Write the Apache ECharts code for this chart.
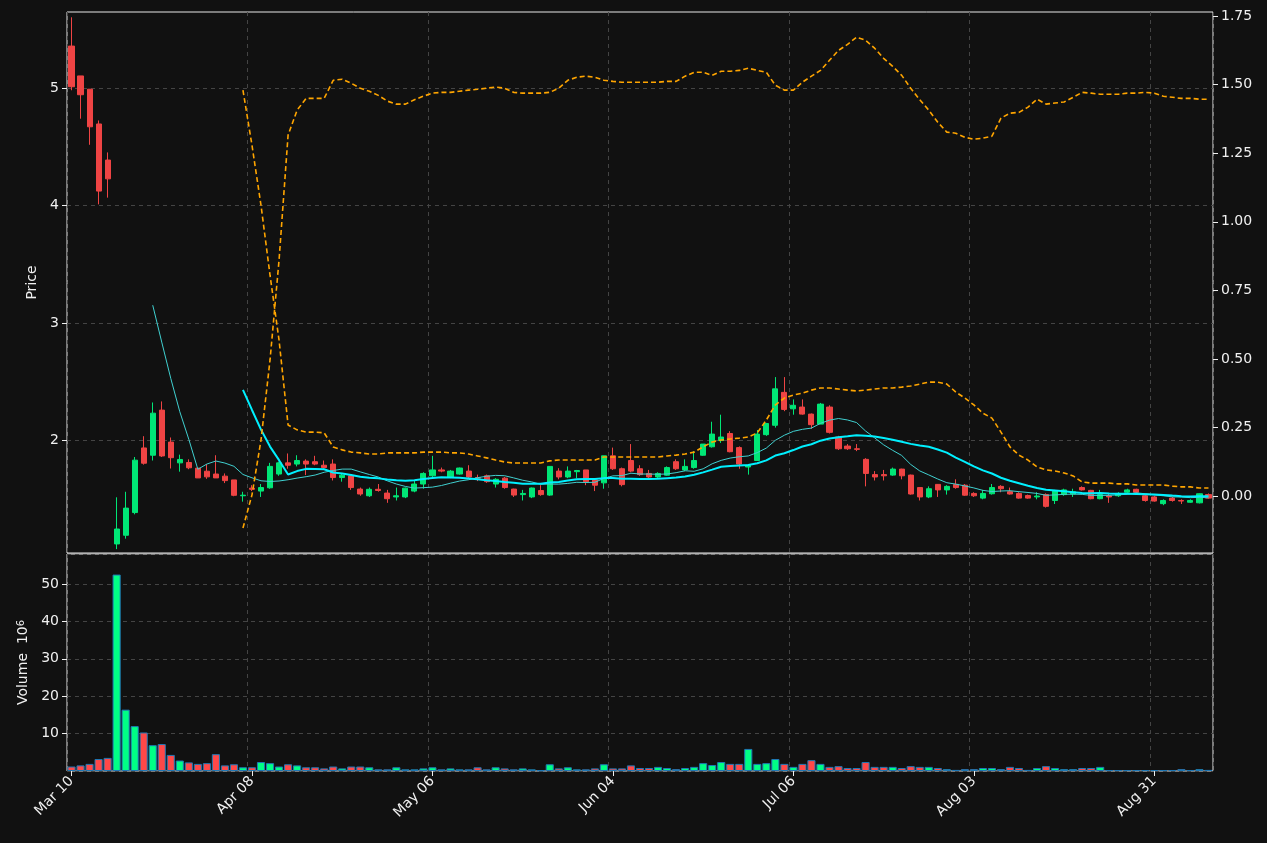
<!DOCTYPE html>
<html><head><meta charset="utf-8">
<script src="https://cdn.jsdelivr.net/npm/echarts@6/dist/echarts.min.js"></script>
<style>html,body{margin:0;padding:0;background:#111111;}#c{width:1267px;height:843px;}</style>
</head><body><div id="c"></div>
<script>
// trading days from Mar 10 2021, 127 bars (days without data skipped)
const holidays = ['2021-04-02','2021-05-31','2021-06-18','2021-07-05','2021-09-06'];
const monthNames = ['Jan','Feb','Mar','Apr','May','Jun','Jul','Aug','Sep','Oct','Nov','Dec'];
const dates = [];
(function(){ let d = new Date(Date.UTC(2021,2,10));
  while (dates.length < 127) { const wd = d.getUTCDay(); const iso = d.toISOString().slice(0,10);
    if (wd !== 0 && wd !== 6 && holidays.indexOf(iso) < 0) dates.push(monthNames[d.getUTCMonth()] + ' ' + String(d.getUTCDate()).padStart(2,'0'));
    d = new Date(d.getTime() + 86400000); } })();

const opens  = [5.357,5.103,4.99,4.694,4.387,1.12,1.194,1.387,1.937,1.875,2.259,1.987,1.81,1.813,1.765,1.739,1.715,1.697,1.665,1.53,1.595,1.57,1.598,1.715,1.81,1.80,1.825,1.82,1.79,1.80,1.685,1.70,1.587,1.53,1.585,1.553,1.52,1.52,1.57,1.63,1.70,1.75,1.69,1.715,1.74,1.685,1.70,1.63,1.68,1.587,1.54,1.52,1.575,1.536,1.74,1.69,1.735,1.75,1.665,1.64,1.87,1.76,1.83,1.76,1.72,1.69,1.705,1.82,1.75,1.77,1.875,1.947,2.00,2.06,1.94,1.775,1.83,2.05,2.13,2.41,2.27,2.285,2.225,2.14,2.285,2.03,1.953,1.93,1.84,1.71,1.71,1.706,1.757,1.706,1.60,1.52,1.627,1.58,1.627,1.62,1.55,1.51,1.547,1.61,1.565,1.55,1.532,1.52,1.54,1.49,1.54,1.545,1.60,1.576,1.505,1.53,1.53,1.56,1.585,1.53,1.52,1.463,1.51,1.49,1.475,1.47,1.54];
const closes = [5.011,4.943,4.67,4.123,4.227,1.247,1.425,1.833,1.807,2.233,1.869,1.854,1.839,1.768,1.682,1.691,1.682,1.659,1.534,1.535,1.585,1.60,1.78,1.81,1.79,1.83,1.80,1.80,1.77,1.685,1.705,1.60,1.545,1.585,1.575,1.505,1.53,1.595,1.63,1.72,1.75,1.74,1.74,1.766,1.69,1.68,1.65,1.67,1.60,1.536,1.55,1.596,1.54,1.78,1.69,1.74,1.745,1.65,1.62,1.87,1.76,1.625,1.74,1.71,1.69,1.72,1.77,1.76,1.78,1.83,1.97,2.055,2.03,1.905,1.80,1.79,2.055,2.145,2.44,2.265,2.30,2.225,2.135,2.31,2.07,1.93,1.93,1.925,1.72,1.69,1.70,1.757,1.70,1.545,1.52,1.59,1.58,1.61,1.60,1.535,1.53,1.55,1.60,1.59,1.545,1.51,1.51,1.528,1.44,1.57,1.58,1.565,1.58,1.505,1.54,1.52,1.55,1.58,1.56,1.49,1.485,1.49,1.49,1.485,1.49,1.547,1.51];
const lows   = [4.981,4.739,4.517,4.01,4.067,1.076,1.165,1.372,1.795,1.83,1.86,1.762,1.735,1.756,1.682,1.674,1.682,1.638,1.526,1.48,1.57,1.52,1.59,1.70,1.76,1.78,1.706,1.79,1.76,1.66,1.65,1.58,1.53,1.52,1.565,1.47,1.49,1.51,1.56,1.59,1.69,1.73,1.68,1.71,1.68,1.655,1.64,1.60,1.59,1.52,1.49,1.51,1.53,1.53,1.67,1.68,1.68,1.62,1.57,1.59,1.75,1.61,1.73,1.70,1.68,1.68,1.70,1.75,1.74,1.76,1.87,1.94,1.98,1.90,1.76,1.71,1.83,2.04,2.11,2.25,2.22,2.22,2.10,2.14,2.06,1.92,1.92,1.91,1.61,1.66,1.66,1.70,1.67,1.54,1.49,1.51,1.52,1.54,1.59,1.53,1.52,1.50,1.54,1.56,1.54,1.505,1.505,1.50,1.43,1.46,1.53,1.52,1.575,1.50,1.50,1.47,1.52,1.55,1.55,1.48,1.48,1.45,1.48,1.46,1.47,1.465,1.505];
const highs  = [5.602,5.103,4.99,4.724,4.452,1.517,1.564,1.86,2.037,2.324,2.333,2.026,1.88,1.84,1.765,1.80,1.875,1.72,1.665,1.564,1.62,1.63,1.81,1.82,1.89,1.875,1.84,1.87,1.83,1.84,1.72,1.70,1.60,1.60,1.63,1.58,1.60,1.60,1.66,1.73,1.87,1.77,1.75,1.77,1.79,1.71,1.71,1.68,1.69,1.59,1.58,1.60,1.62,1.78,1.765,1.78,1.75,1.75,1.67,1.87,1.94,1.77,1.97,1.79,1.75,1.73,1.78,1.84,1.84,1.91,1.97,2.16,2.22,2.08,1.95,1.80,2.09,2.15,2.54,2.54,2.35,2.35,2.23,2.32,2.30,2.04,1.97,1.97,1.85,1.74,1.75,1.77,1.76,1.71,1.60,1.61,1.63,1.62,1.67,1.63,1.56,1.58,1.63,1.62,1.60,1.56,1.54,1.56,1.55,1.58,1.59,1.59,1.61,1.58,1.58,1.55,1.56,1.59,1.59,1.54,1.53,1.50,1.52,1.50,1.50,1.55,1.55];
const volumes = [1.2,1.5,1.9,3.2,3.5,52.5,16.4,12.0,10.3,6.9,7.2,4.3,2.8,2.3,1.9,2.1,4.5,1.5,1.8,1.0,1.0,2.4,2.1,1.2,1.8,1.5,1.0,1.0,0.7,1.2,0.7,1.2,1.2,1.0,0.45,0.45,1.0,0.45,0.45,0.7,1.0,0.45,0.7,0.45,0.45,1.0,0.45,1.0,0.7,0.45,0.7,0.45,0.2,1.8,0.7,1.0,0.45,0.45,0.7,1.8,0.7,0.7,1.5,0.8,0.8,1.1,0.8,0.5,0.8,1.1,2.1,1.6,2.4,1.9,1.9,5.9,1.9,2.1,3.2,1.9,1.1,1.9,2.9,1.9,1.1,1.3,0.8,0.8,2.4,1.1,1.1,1.1,0.8,1.3,1.1,1.1,0.8,0.5,0.3,0.5,0.5,0.8,0.8,0.5,1.1,0.8,0.3,0.8,1.3,0.8,0.5,0.5,0.8,0.8,1.1,0.25,0.25,0.25,0.25,0.25,0.25,0.25,0.25,0.5,0.25,0.5,0.3];
// secondary-axis dashed lines, starting at bar 19
const lineUp = [-0.117,0.004,0.204,0.496,0.860,1.316,1.407,1.450,1.450,1.450,
 1.516,1.520,1.505,1.487,1.476,1.461,1.440,1.429,1.429,1.445,
 1.458,1.469,1.472,1.472,1.476,1.480,1.483,1.487,1.491,1.487,
 1.472,1.469,1.469,1.469,1.472,1.487,1.516,1.527,1.531,1.527,
 1.516,1.512,1.509,1.509,1.509,1.509,1.509,1.512,1.512,1.531,
 1.545,1.545,1.534,1.549,1.549,1.552,1.560,1.552,1.545,1.498,
 1.480,1.480,1.509,1.531,1.552,1.589,1.625,1.647,1.673,1.662,
 1.633,1.596,1.567,1.534,1.487,1.445,1.407,1.363,1.327,1.323,
 1.308,1.301,1.305,1.312,1.378,1.396,1.399,1.418,1.447,1.429,
 1.433,1.437,1.454,1.472,1.469,1.465,1.465,1.465,1.469,1.469,
 1.472,1.469,1.458,1.454,1.450,1.450,1.447,1.447];
const lineDown = [1.480,1.279,1.060,0.805,0.568,0.259,0.241,0.233,0.233,0.230,
 0.179,0.168,0.160,0.157,0.153,0.153,0.157,0.157,0.157,0.157,
 0.160,0.160,0.160,0.157,0.157,0.153,0.146,0.139,0.131,0.124,
 0.120,0.120,0.120,0.120,0.128,0.131,0.131,0.131,0.131,0.131,
 0.142,0.142,0.142,0.142,0.142,0.142,0.142,0.146,0.149,0.153,
 0.160,0.179,0.197,0.204,0.208,0.211,0.215,0.230,0.277,0.332,
 0.357,0.368,0.375,0.386,0.394,0.394,0.390,0.386,0.383,0.386,
 0.390,0.394,0.394,0.397,0.401,0.408,0.415,0.415,0.408,0.379,
 0.357,0.332,0.302,0.284,0.233,0.179,0.149,0.131,0.106,0.095,
 0.091,0.084,0.073,0.051,0.047,0.047,0.047,0.044,0.044,0.040,
 0.040,0.040,0.040,0.036,0.033,0.033,0.029,0.029];
const lineStart = 19;
const priceTicks = [2,3,4,5];
const rightTicks = [0,0.25,0.5,0.75,1.0,1.25,1.5,1.75];
const volTicks = [10,20,30,40,50];

function ma(n){ return closes.map((c,i)=>{ if(i<n-1) return null; let s=0; for(let k=i-n+1;k<=i;k++) s+=closes[k]; return +(s/n).toFixed(4); }); }
const pad = a => Array(lineStart).fill(null).concat(a);
const UP='#00e676', DN='#ef4444', VUP='#00ff85', VDN='#ff4848';
const candle = dates.map((d,i)=>[opens[i],closes[i],lows[i],highs[i]]);
const vol = volumes.map((v,i)=>({value:v,itemStyle:{color: closes[i]>=opens[i]?VUP:VDN}}));
const txt = '#f0f0f0', gridC='#444';
const chart = echarts.init(document.getElementById('c'));
const xBase = {type:'category',data:dates,boundaryGap:true,
  axisLine:{show:false},axisTick:{show:false},axisLabel:{show:false},
  splitLine:{show:true,interval:19,lineStyle:{color:gridC,type:[4,4]}}};
chart.setOption({
  backgroundColor:'#111111', animation:false,
  textStyle:{fontFamily:'DejaVu Sans'},
  grid:[{left:67,right:54,top:12,height:541,show:true,borderColor:'#e8e8e8',borderWidth:1,backgroundColor:'transparent'},
        {left:67,right:54,top:554,height:217,show:true,borderColor:'#e8e8e8',borderWidth:1}],
  xAxis:[Object.assign({gridIndex:0},xBase),
    Object.assign({},xBase,{gridIndex:1,axisTick:{show:true,interval:19,alignWithLabel:true,length:5,lineStyle:{color:txt}},
      axisLabel:{show:true,interval:19,rotate:45,color:txt,fontSize:14,margin:8}})],
  yAxis:[
    {gridIndex:0,type:'value',min:1.043,max:5.647,position:'left',
     name:'Price',nameLocation:'middle',nameGap:28,nameRotate:90,nameTextStyle:{color:txt,fontSize:14},
     axisLabel:{color:txt,fontSize:14,customValues:priceTicks},axisTick:{show:true,customValues:priceTicks,lineStyle:{color:txt}},axisLine:{show:false},
     splitLine:{show:true,lineStyle:{color:gridC,type:[4,4]}}},
    {gridIndex:0,type:'value',min:-0.208,max:1.765,position:'right',
     axisLabel:{color:txt,fontSize:14,customValues:rightTicks,formatter:v=>v.toFixed(2)},
     axisTick:{show:true,customValues:rightTicks,lineStyle:{color:txt}},axisLine:{show:false},splitLine:{show:false}},
    {gridIndex:1,type:'value',min:0,max:58,interval:10,position:'left',
     name:'Volume  10{s|6}',nameLocation:'middle',nameGap:30,nameRotate:90,
     nameTextStyle:{color:txt,fontSize:14,rich:{s:{fontSize:10,verticalAlign:'top',color:txt}}},
     axisLabel:{color:txt,fontSize:14,showMinLabel:false,showMaxLabel:false,formatter:v=>volTicks.indexOf(v)>=0?String(v):''},
     axisTick:{show:true,lineStyle:{color:txt}},axisLine:{show:false},
     splitLine:{show:true,lineStyle:{color:gridC,type:[4,4]}}}
  ],
  series:[
    {type:'candlestick',xAxisIndex:0,yAxisIndex:0,data:candle,barWidth:'62%',
     itemStyle:{color:UP,color0:DN,borderColor:UP,borderColor0:DN,borderWidth:1}},
    {type:'line',xAxisIndex:0,yAxisIndex:0,data:ma(10),showSymbol:false,lineStyle:{color:'#40d0d0',width:1}},
    {type:'line',xAxisIndex:0,yAxisIndex:0,data:ma(20),showSymbol:false,lineStyle:{color:'#00f0ff',width:2}},
    {type:'line',xAxisIndex:0,yAxisIndex:1,data:pad(lineUp),showSymbol:false,lineStyle:{color:'#ffa500',width:1.6,type:[5,3]}},
    {type:'line',xAxisIndex:0,yAxisIndex:1,data:pad(lineDown),showSymbol:false,lineStyle:{color:'#ffa500',width:1.6,type:[5,3]}},
    {type:'bar',xAxisIndex:1,yAxisIndex:2,data:vol,barWidth:'90%',itemStyle:{borderColor:'#1f77b4',borderWidth:1}}
  ]
});
</script></body></html>
